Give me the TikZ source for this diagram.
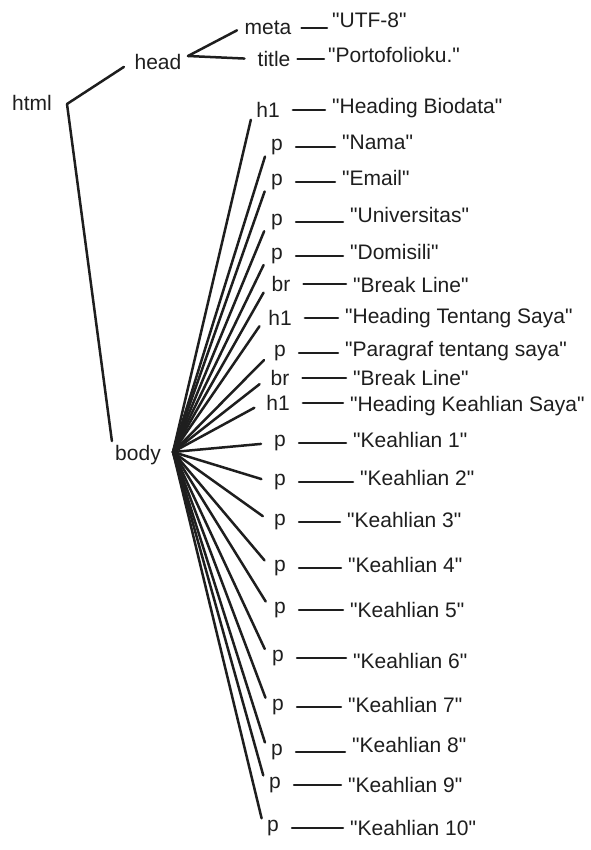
\documentclass[tikz,border=0pt]{standalone}
\usepackage{fontspec}
\setmainfont{Liberation Sans}[Ligatures=TeXOff]
\definecolor{domInk}{HTML}{1E1E1E}
\tikzset{
  dom link/.style={draw=domInk, line width=2.5pt, line cap=round},
  dom tag/.style={font=\fontsize{21}{25}\selectfont, text=domInk, inner sep=3pt},
  dom value/.style={font=\fontsize{21}{25}\selectfont, text=domInk, inner sep=3pt, anchor=west},
}

\begin{document}
\begin{tikzpicture}[x=1pt,y=-1pt]
  \useasboundingbox (0,0) rectangle (590,850);

  % root and head part
  \node[dom tag] (html) at (32,103) {html};
  \coordinate (htmlhub) at (67,104);
  \node[dom tag] (head) at (158,62) {head};
  \node[dom tag] (body) at (138,455) {body};
  \coordinate (headhub) at (188,56);
  \coordinate (bodyhub) at (173,452);
  \draw[dom link, shorten >=9pt] (htmlhub) -- (head.west);
  \draw[dom link, shorten >=1pt] (htmlhub) -- (body.north west);

  \node[dom tag] (meta) at (268,28) {meta};
  \node[dom tag] (title) at (274,59) {title};
  \node[dom value] (utf) at (329,20) {"UTF-8"};
  \node[dom value] (porto) at (325,55) {"Portofolioku."};
  \draw[dom link, shorten >=5pt] (headhub) -- (meta.west);
  \draw[dom link, shorten >=10pt] (headhub) -- (title.west);
  \draw[dom link, shorten <=7pt, shorten >=2pt] (meta.east) -- (meta.east -| utf.west);
  \draw[dom link, shorten <=4pt, shorten >=1pt] (title.east) -- (title.east -| porto.west);

  % body part
  \foreach \i/\tag/\tx/\ty/\vx/\vy/\val in {
      1/h1/268/110/329/108/{"Heading Biodata"},
      2/p/277/147/339/142/{"Nama"},
      3/p/277/182/339/178/{"Email"},
      4/p/277/222/347/215/{"Universitas"},
      5/p/277/256/347/252/{"Domisili"},
      6/br/281/284/350/285/{"Break Line"},
      7/h1/280/318/342/318/{"Heading Tentang Saya"},
      8/p/280/353/342/351/{"Paragraf tentang saya"},
      9/br/280/378/350/378/{"Break Line"},
      10/h1/278/403/347/406/{"Heading Keahlian Saya"},
      11/p/280/443/350/440/{"Keahlian 1"},
      12/p/280/482/357/478/{"Keahlian 2"},
      13/p/280/522/344/520/{"Keahlian 3"},
      14/p/280/568/345/565/{"Keahlian 4"},
      15/p/280/610/347/610/{"Keahlian 5"},
      16/p/278/658/350/661/{"Keahlian 6"},
      17/p/278/707/345/705/{"Keahlian 7"},
      18/p/277/752/349/745/{"Keahlian 8"},
      19/p/275/785/345/785/{"Keahlian 9"},
      20/p/273/828/347/828/{"Keahlian 10"}} {
    \node[dom tag] (t\i) at (\tx,\ty) {\tag};
    \node[dom value] (v\i) at (\vx,\vy) {\val};
    \draw[dom link, shorten >=10pt] (bodyhub) -- (t\i.west);
    \draw[dom link, shorten <=10pt, shorten >=4pt] (t\i.east) -- (t\i.east -| v\i.west);
  }
\end{tikzpicture}
\end{document}
